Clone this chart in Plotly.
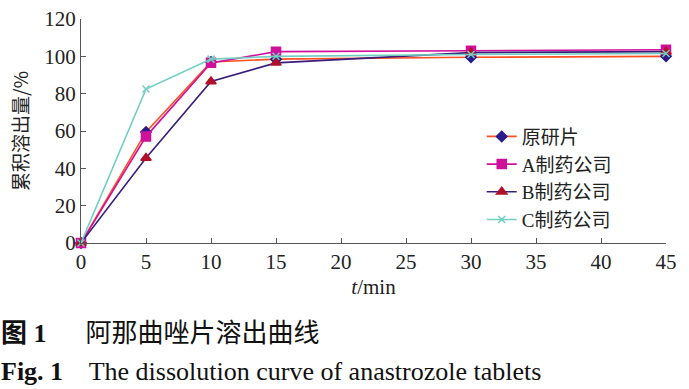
import plotly.graph_objects as go

time_min = [0, 5, 10, 15, 30, 45]
series_names = ["原研片", "A制药公司", "B制药公司", "C制药公司"]
ref_vals = [0, 59.5, 97, 98.5, 99.5, 100]
a_vals = [0, 57, 96.5, 102.5, 103, 103.5]
b_vals = [0, 45.5, 86.5, 96.5, 102, 102.5]
c_vals = [0, 82.5, 98.5, 100, 101, 101.5]
x_ticks = [0, 5, 10, 15, 20, 25, 30, 35, 40, 45]
y_ticks = [0, 20, 40, 60, 80, 100, 120]

line_colors = ["#FF5020", "#D0109A", "#3A1C7A", "#70CFC0"]
marker_colors = ["#2A1A8A", "#D0109A", "#B0102A", "#70CFC0"]
symbols = ["diamond", "square", "triangle-up", "x-thin"]
sizes = [8, 9, 9, 7]

serif = "Liberation Serif"
cjk = "Noto Sans CJK SC"

fig = go.Figure()
for name, vals, lc, mc, sym, sz in zip(series_names, [ref_vals, a_vals, b_vals, c_vals],
                                        line_colors, marker_colors, symbols, sizes):
    fig.add_trace(go.Scatter(
        x=time_min, y=vals, name=name, mode="lines+markers",
        line=dict(color=lc, width=1.6),
        marker=dict(symbol=sym, size=sz, color=mc, line=dict(color=mc, width=1.5)),
        cliponaxis=False,
    ))

fig.update_layout(
    width=689, height=389,
    margin=dict(l=81, r=23, t=19, b=146, autoexpand=False),
    paper_bgcolor="white", plot_bgcolor="white",
    font=dict(family=serif, size=18, color="#222"),
    showlegend=True,
    legend=dict(x=0.685, y=0.56, xanchor="left", yanchor="top",
                font=dict(family=serif + ", " + cjk, size=19, color="#222"),
                bgcolor="rgba(0,0,0,0)", tracegroupgap=0, itemwidth=30),
)
fig.update_xaxes(
    range=[0, 45], tickvals=x_ticks, ticktext=[str(t) for t in x_ticks],
    showline=True, linecolor="#555", linewidth=1.2, automargin=False,
    ticks="inside", ticklen=5, tickcolor="#555", showgrid=False, zeroline=False,
    tickfont=dict(family=serif, size=21),
    title=dict(text="<i>t</i>/min", font=dict(family=serif, size=21), standoff=6),
)
fig.update_yaxes(
    range=[0, 120], tickvals=y_ticks, ticktext=[str(t) for t in y_ticks],
    showline=True, linecolor="#555", linewidth=1.2, automargin=False,
    ticks="inside", ticklen=5, tickcolor="#555", showgrid=False, zeroline=False,
    tickfont=dict(family=serif, size=21),
    title=dict(text="累积溶出量/%", font=dict(family=cjk, size=19), standoff=10),
)

fig.add_annotation(xref="paper", yref="paper", x=-82/585, y=-90/224, xanchor="left", yanchor="middle",
                   text="<b>图 1</b>　  阿那曲唑片溶出曲线", showarrow=False,
                   font=dict(family=serif + ", " + cjk, size=26, color="#111"))
fig.add_annotation(xref="paper", yref="paper", x=-82/585, y=-128/224, xanchor="left", yanchor="middle",
                   text="<b>Fig. 1</b>    The dissolution curve of anastrozole tablets", showarrow=False,
                   font=dict(family=serif, size=26, color="#111"))

fig.write_html("out.html", config={"displayModeBar": False},
               post_script="document.body.style.margin='0';")
